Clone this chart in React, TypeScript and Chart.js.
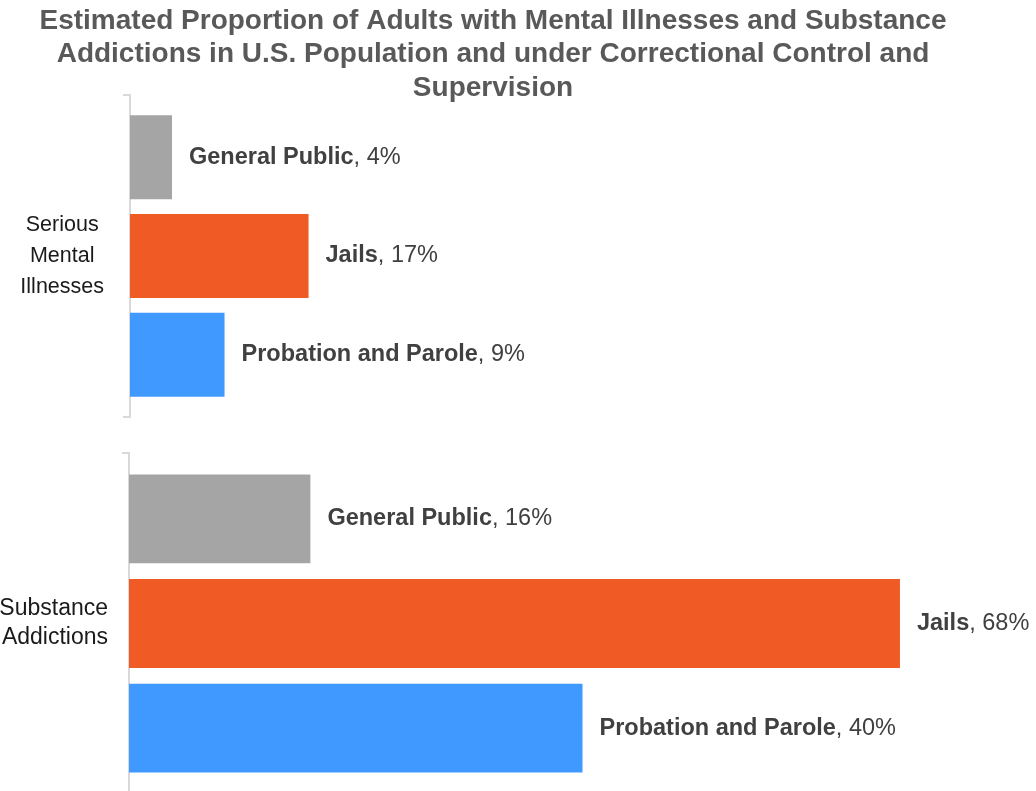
import React, { useEffect, useRef } from 'react';
import { Chart, registerables } from 'chart.js';

Chart.register(...registerables);

const FONT = '"Liberation Sans", Arial, Helvetica, sans-serif';

const titleLines = [
  'Estimated Proportion of Adults with Mental Illnesses and Substance',
  'Addictions in U.S. Population and under Correctional Control and',
  'Supervision',
];
const seriesNames = ['General Public', 'Jails', 'Probation and Parole'];
const seriesColors = ['#a5a5a5', '#f05a24', '#4099ff'];
const mentalCategory = [['Serious', 'Mental', 'Illnesses']];
const mentalValues = [4, 17, 9];
const substanceCategory = [['Substance', 'Addictions']];
const substanceValues = [16, 68, 40];

const barLabelPlugin = {
  id: 'barLabels',
  afterDatasetsDraw(chart: any) {
    const ctx = chart.ctx;
    ctx.save();
    chart.data.datasets.forEach((ds: any, i: number) => {
      const meta = chart.getDatasetMeta(i);
      meta.data.forEach((bar: any, j: number) => {
        const v = ds.data[j];
        const x = bar.x + 17;
        const y = bar.y;
        ctx.textBaseline = 'middle';
        ctx.textAlign = 'left';
        ctx.fillStyle = '#404040';
        ctx.font = `bold 23.5px ${FONT}`;
        ctx.fillText(ds.label, x, y);
        const w = ctx.measureText(ds.label).width;
        ctx.font = `23.5px ${FONT}`;
        ctx.fillText(`, ${v}%`, x + w, y);
      });
    });
    ctx.restore();
  },
};

function makeDatasets(values: number[]) {
  return seriesNames.map((name, i) => ({
    label: name,
    data: [values[i]],
    backgroundColor: seriesColors[i],
    categoryPercentage: 0.92,
    barPercentage: 0.85,
  }));
}

const axisGrid = {
  display: true,
  drawOnChartArea: false,
  drawTicks: true,
  tickLength: 7,
  color: '#d9d9d9',
  lineWidth: 2,
  offset: true,
};
const axisBorder = { display: true, color: '#d9d9d9', width: 2 };

function fixAxis(width: number) {
  return (s: any) => {
    s.width = width;
    s.paddingTop = 0;
    s.paddingBottom = 0;
  };
}

export default function App() {
  const ref1 = useRef<HTMLCanvasElement | null>(null);
  const ref2 = useRef<HTMLCanvasElement | null>(null);

  useEffect(() => {
    const c1 = new Chart(ref1.current as HTMLCanvasElement, {
      type: 'bar',
      data: { labels: mentalCategory as any, datasets: makeDatasets(mentalValues) },
      options: {
        indexAxis: 'y',
        responsive: false,
        animation: false,
        devicePixelRatio: 1,
        layout: { padding: { left: 0, right: 20, top: 0, bottom: 13 } },
        plugins: {
          legend: { display: false },
          tooltip: { enabled: false },
          title: {
            display: true,
            text: titleLines,
            color: '#595959',
            font: { family: FONT, size: 28, weight: 'bold', lineHeight: 1.2 },
            padding: { top: 4, bottom: -9.8 },
          },
        },
        scales: {
          x: { display: false, min: 0, max: 81.5 },
          y: {
            afterFit: fixAxis(130),
            grid: axisGrid,
            border: axisBorder,
            ticks: {
              crossAlign: 'center',
              padding: 19,
              color: '#1a1a1a',
              font: { family: FONT, size: 21.5, lineHeight: 1.45 },
            },
          },
        },
      } as any,
      plugins: [barLabelPlugin],
    });

    const c2 = new Chart(ref2.current as HTMLCanvasElement, {
      type: 'bar',
      data: { labels: substanceCategory as any, datasets: makeDatasets(substanceValues) },
      options: {
        indexAxis: 'y',
        responsive: false,
        animation: false,
        devicePixelRatio: 1,
        layout: { padding: { left: 0, right: 0, top: 13, bottom: 6 } },
        plugins: {
          legend: { display: false },
          tooltip: { enabled: false },
        },
        scales: {
          x: { display: false, min: 0, max: 80 },
          y: {
            afterFit: fixAxis(129),
            grid: axisGrid,
            border: axisBorder,
            ticks: {
              crossAlign: 'near',
              padding: 14,
              color: '#1a1a1a',
              font: { family: FONT, size: 23, lineHeight: 1.26 },
            },
          },
        },
      } as any,
      plugins: [barLabelPlugin],
    });

    return () => {
      c1.destroy();
      c2.destroy();
    };
  }, []);

  return (
    <div
      style={{
        position: 'absolute',
        left: 0,
        top: 0,
        width: 1036,
        height: 791,
        overflow: 'hidden',
        background: '#ffffff',
      }}
    >
      <canvas ref={ref1} width={1006} height={430} style={{ position: 'absolute', left: 0, top: 0 }} />
      <canvas ref={ref2} width={1036} height={360} style={{ position: 'absolute', left: 0, top: 440 }} />
    </div>
  );
}
